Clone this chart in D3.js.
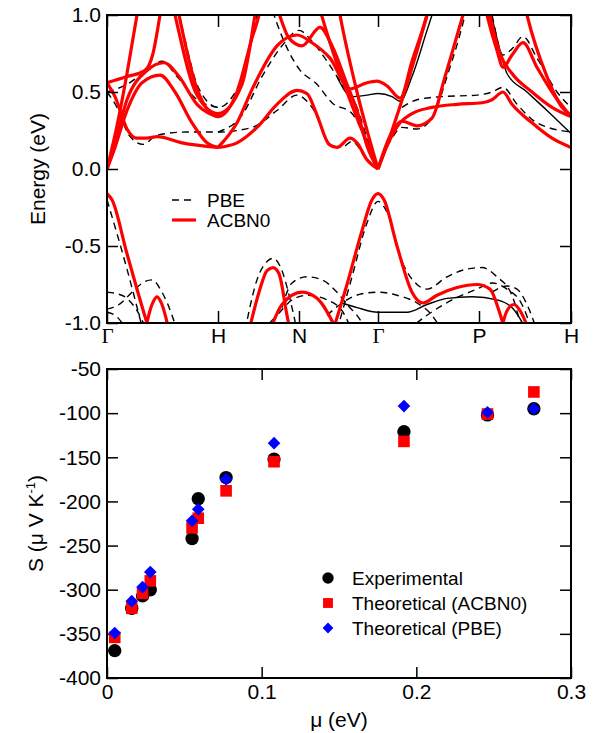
<!DOCTYPE html>
<html>
<head>
<meta charset="utf-8">
<script src="https://cdn.jsdelivr.net/npm/d3@7"></script>
<style>
  body { margin: 0; background: #fff; }
  text { font-family: "Liberation Sans", Arial, sans-serif; }
</style>
</head>
<body>
<div id="chart"></div>
<script>
var width = 596,
    height = 733;

// ---- band structure data (k along path, E in eV) ----
var kTicks = [0, 1.11, 1.92, 2.71, 3.72, 4.64];
var kLabels = ['Γ', 'H', 'N', 'Γ', 'P', 'H'];
var energyTicks = [-1, -0.5, 0, 0.5, 1];

// ACBN0 bands
var acbn0Bands = [
    [[0, 0], [0.1, 0.28], [0.2, 0.62], [0.3, 1.0], [0.4, 1.4]],
    [[0, 0], [0.08, 0.14], [0.2, 0.38], [0.35, 0.56], [0.53, 0.61], [0.68, 0.5], [0.85, 0.3], [1.0, 0.17], [1.11, 0.14]],
    [[0, 0], [0.06, 0.12], [0.2, 0.45], [0.4, 0.64], [0.57, 0.69], [0.72, 0.6], [0.9, 0.42], [1.11, 0.34]],
    [[0, 0.56], [0.08, 0.47], [0.2, 0.26], [0.3, 0.2], [0.4, 0.2], [0.5, 0.21], [0.75, 0.17], [1.11, 0.14]],
    [[0, 0.56], [0.2, 0.6], [0.38, 0.64], [0.46, 0.75], [0.53, 1.0], [0.6, 1.3]],
    [[0.6, 1.4], [0.72, 1.0], [0.9, 0.52], [1.11, 0.34], [1.3, 0.5], [1.45, 0.85], [1.52, 1.0], [1.6, 1.3]],
    [[0.55, 1.4], [0.68, 1.0], [0.9, 0.48], [1.11, 0.36], [1.35, 0.55], [1.48, 1.0], [1.55, 1.3]],
    [[1.11, 0.14], [1.3, 0.17], [1.5, 0.27], [1.7, 0.42], [1.9, 0.51], [2.0, 0.49], [2.1, 0.35], [2.22, 0.16], [2.3, 0.14], [2.43, 0.2], [2.5, 0.17], [2.6, 0.06], [2.71, 0]],
    [[1.11, 0.14], [1.3, 0.3], [1.46, 0.53], [1.7, 0.8], [1.9, 0.87], [2.05, 0.82], [2.23, 0.72], [2.43, 0.52], [2.6, 0.56], [2.7, 0.57], [2.8, 0.54], [2.93, 0.46], [3.05, 0.7], [3.2, 1.0], [3.3, 1.25]],
    [[1.55, 1.35], [1.7, 1.05], [1.82, 0.85], [1.95, 0.8], [2.13, 0.92], [2.25, 0.8], [2.4, 0.55], [2.5, 0.38], [2.6, 0.15], [2.71, 0]],
    [[2.1, 1.1], [2.23, 0.82], [2.4, 0.5], [2.55, 0.25], [2.71, 0]],
    [[2.25, 1.3], [2.33, 1.0], [2.5, 0.5], [2.71, 0]],
    [[2.71, 0], [2.85, 0.25], [3.0, 0.55], [3.2, 1.0], [3.3, 1.25]],
    [[2.71, 0], [2.8, 0.15], [2.93, 0.3], [3.05, 0.36], [3.25, 0.4], [3.5, 0.42], [3.75, 0.43], [3.85, 0.45], [3.96, 0.5], [4.05, 0.42], [4.25, 0.3], [4.45, 0.2], [4.64, 0.14]],
    [[2.71, 0], [2.82, 0.2], [2.95, 0.31], [3.1, 0.28], [3.25, 0.33], [3.38, 0.6], [3.56, 1.0], [3.65, 1.2]],
    [[3.7, 1.3], [3.8, 1.0], [3.9, 0.77], [3.96, 0.66], [4.05, 0.74], [4.16, 0.82], [4.3, 0.66], [4.45, 0.5], [4.64, 0.34]],
    [[3.75, 1.3], [3.83, 1.0], [3.93, 0.75], [4.05, 0.62], [4.25, 0.5], [4.45, 0.4], [4.64, 0.34]],
    [[4.1, 1.3], [4.2, 1.0], [4.4, 0.6], [4.55, 0.4], [4.64, 0.35]],
    // valence
    [[0, -0.16], [0.05, -0.2], [0.2, -0.55], [0.4, -1.0], [0.5, -1.2]],
    [[0.38, -1.05], [0.45, -0.88], [0.5, -0.83], [0.55, -0.88], [0.62, -1.05]],
    [[1.42, -1.05], [1.52, -0.8], [1.6, -0.66], [1.66, -0.64], [1.72, -0.68], [1.8, -0.95], [1.83, -1.05]],
    [[1.63, -1.05], [1.75, -0.88], [1.95, -0.8], [2.1, -0.84], [2.3, -1.05]],
    [[2.26, -1.05], [2.4, -0.75], [2.55, -0.4], [2.65, -0.2], [2.71, -0.16], [2.77, -0.2], [2.9, -0.5], [3.05, -0.8], [3.16, -0.87], [3.3, -0.82], [3.5, -0.77], [3.7, -0.75], [3.83, -0.78], [3.92, -0.92], [3.98, -1.05]],
    [[3.94, -1.05], [4.0, -0.92], [4.07, -0.88], [4.14, -0.93], [4.22, -1.05]]
];

// PBE bands
var pbeBands = [
    [[0, 0.5], [0.1, 0.4], [0.22, 0.22], [0.36, 0.16], [0.5, 0.22], [0.8, 0.24], [1.11, 0.24], [1.45, 0.27], [1.7, 0.38], [1.9, 0.48], [2.05, 0.4], [2.25, 0.15], [2.35, 0.14], [2.45, 0.18], [2.6, 0.06], [2.71, 0]],
    [[0, 0.5], [0.2, 0.55], [0.4, 0.64], [0.55, 0.7], [0.7, 0.6], [0.9, 0.45], [1.11, 0.4]],
    [[0.6, 1.3], [0.72, 1.0], [0.92, 0.52], [1.11, 0.4], [1.3, 0.52], [1.5, 1.0], [1.6, 1.25]],
    [[1.11, 0.24], [1.35, 0.35], [1.55, 0.6], [1.75, 0.8], [1.92, 0.9], [2.05, 0.83], [2.2, 0.7], [2.35, 0.55], [2.5, 0.4], [2.6, 0.2], [2.71, 0]],
    [[1.55, 1.25], [1.75, 0.86], [1.92, 0.65], [2.1, 0.55], [2.25, 0.43], [2.45, 0.36], [2.55, 0.25], [2.71, 0]],
    [[2.71, 0], [2.85, 0.2], [2.95, 0.27], [3.1, 0.26], [3.25, 0.33], [3.4, 0.6], [3.58, 1.0], [3.65, 1.2]],
    [[2.95, 0.4], [3.1, 0.45], [3.35, 0.47], [3.7, 0.48], [3.85, 0.5], [3.96, 0.53], [4.1, 0.42], [4.3, 0.3], [4.64, 0.24]],
    [[3.75, 1.3], [3.85, 1.0], [3.96, 0.74], [4.05, 0.78], [4.16, 0.86], [4.3, 0.72], [4.5, 0.5], [4.64, 0.4]],
    [[0, -0.2], [0.1, -0.42], [0.2, -0.65], [0.36, -1.05]],
    [[0, -0.8], [0.1, -0.81], [0.2, -0.84], [0.3, -0.92], [0.4, -1.05]],
    [[0, -0.91], [0.12, -0.88], [0.25, -0.8], [0.38, -0.73], [0.45, -0.72], [0.55, -0.8], [0.65, -0.95], [0.7, -1.05]],
    [[0, -0.93], [0.1, -0.96], [0.2, -1.05]],
    [[1.38, -1.05], [1.5, -0.72], [1.6, -0.6], [1.66, -0.58], [1.73, -0.63], [1.85, -0.9], [1.9, -1.05]],
    [[1.75, -0.9], [1.85, -0.74], [2.0, -0.7], [2.15, -0.72], [2.3, -0.8], [2.4, -0.88], [2.5, -0.95], [2.6, -1.05]],
    [[1.55, -1.05], [1.7, -0.95], [1.85, -0.85], [2.0, -0.82], [2.2, -0.85], [2.35, -0.92], [2.45, -1.05]],
    [[2.2, -0.95], [2.35, -0.87], [2.55, -0.81], [2.71, -0.8], [2.9, -0.82], [3.1, -0.87], [3.25, -0.95], [3.35, -1.05]],
    [[2.3, -1.05], [2.45, -0.7], [2.6, -0.35], [2.71, -0.21], [2.8, -0.28], [2.95, -0.6], [3.1, -0.75], [3.2, -0.78], [3.4, -0.7], [3.6, -0.65], [3.75, -0.64], [3.9, -0.7], [4.05, -0.82], [4.15, -1.05]],
    [[3.0, -1.05], [3.2, -0.95], [3.45, -0.85], [3.7, -0.78], [3.85, -0.74], [4.0, -0.78], [4.15, -0.88], [4.25, -1.05]],
    [[3.85, -0.8], [4.0, -0.76], [4.1, -0.78], [4.2, -0.88], [4.3, -1.05]]
];

// doubly degenerate PBE bands (dashes overlap into a solid line)
var pbeDoubleBands = [
    [[2.3, 0.6], [2.45, 0.47], [2.6, 0.48], [2.71, 0.49], [2.85, 0.47], [2.93, 0.44], [3.05, 0.6], [3.2, 0.9], [3.25, 1.0]],
    [[3.78, 1.2], [3.88, 0.9], [3.96, 0.7], [4.0, 0.62], [4.2, 0.5], [4.4, 0.38], [4.64, 0.23]],
    [[2.35, -0.87], [2.5, -0.9], [2.71, -0.93], [3.0, -0.93], [3.2, -0.88], [3.4, -0.84], [3.65, -0.83], [3.9, -0.85], [4.05, -0.9], [4.2, -1.05]]
];

// ---- Seebeck data ----
var mu = [0.005, 0.016, 0.023, 0.028, 0.055, 0.059, 0.077, 0.108, 0.192, 0.246, 0.276];
var sExperimental = [-369, -321, -307, -300, -242, -197, -173, -152, -121, -102, -95];
var sACBN0 = [-354, -321, -304, -290, -230, -219, -188, -155, -132, -101, -76];
var sPBE = [-349, -313, -297, -280, -222, -209, -175, -134, -92, -99, -95];
var muTicks = [0, 0.1, 0.2, 0.3];
var sTicks = [-400, -350, -300, -250, -200, -150, -100, -50];
var seriesNames = ['Experimental', 'Theoretical (ACBN0)', 'Theoretical (PBE)'];

var svg = d3.select('#chart')
    .append('svg')
    .attr('width', width)
    .attr('height', height)

// ================= top panel =================
var bandBox = {left: 107, right: 571, top: 15, bottom: 323}

var kscale = d3.scaleLinear()
    .domain([0, 4.64])
    .range([bandBox.left, bandBox.right])
var escale = d3.scaleLinear()
    .domain([-1, 1])
    .range([bandBox.bottom, bandBox.top])

svg.append('clipPath')
    .attr('id', 'clipTop')
    .append('rect')
    .attr('x', bandBox.left)
    .attr('y', bandBox.top)
    .attr('width', bandBox.right - bandBox.left)
    .attr('height', bandBox.bottom - bandBox.top)

var bandLine = d3.line()
    .x(d => kscale(d[0]))
    .y(d => escale(d[1]))
    .curve(d3.curveMonotoneX)

var bands = svg.append('g').attr('clip-path', 'url(#clipTop)')

bands.selectAll('.pbe')
    .data(pbeBands)
    .enter()
    .append('path')
    .attr('class', 'pbe')
    .attr('d', bandLine)
    .attr('fill', 'none')
    .attr('stroke', '#000')
    .attr('stroke-width', 1.4)
    .attr('stroke-dasharray', '7,5')

bands.selectAll('.pbe2')
    .data(pbeDoubleBands)
    .enter()
    .append('path')
    .attr('class', 'pbe2')
    .attr('d', bandLine)
    .attr('fill', 'none')
    .attr('stroke', '#000')
    .attr('stroke-width', 1.4)

bands.selectAll('.acbn0')
    .data(acbn0Bands)
    .enter()
    .append('path')
    .attr('class', 'acbn0')
    .attr('d', bandLine)
    .attr('fill', 'none')
    .attr('stroke', '#ff0000')
    .attr('stroke-width', 3.2)

// axes
var eFormat = d => d.toFixed(1)
svg.append('g')
    .attr('transform', `translate(${bandBox.left},0)`)
    .call(d3.axisLeft(escale).tickValues(energyTicks).tickSize(-11).tickPadding(6).tickFormat(eFormat))
svg.append('g')
    .attr('transform', `translate(${bandBox.right},0)`)
    .call(d3.axisRight(escale).tickValues(energyTicks).tickSize(-11).tickFormat(''))
svg.append('g')
    .attr('transform', `translate(0,${bandBox.bottom})`)
    .call(d3.axisBottom(kscale).tickValues(kTicks).tickSize(-12).tickPadding(5).tickFormat((d, i) => kLabels[i]))
svg.append('g')
    .attr('transform', `translate(0,${bandBox.top})`)
    .call(d3.axisTop(kscale).tickValues(kTicks).tickSize(-12).tickFormat(''))

svg.append('rect')
    .attr('x', bandBox.left)
    .attr('y', bandBox.top)
    .attr('width', bandBox.right - bandBox.left)
    .attr('height', bandBox.bottom - bandBox.top)
    .attr('fill', 'none')
    .attr('stroke', '#000')
    .attr('stroke-width', 2)

svg.append('text')
    .attr('transform', `translate(45,${(bandBox.top + bandBox.bottom) / 2}) rotate(-90)`)
    .attr('text-anchor', 'middle')
    .attr('font-size', 21)
    .text('Energy (eV)')

// legend (top)
var topLegend = [{name: 'PBE', dash: '7,5', color: '#000', w: 1.4}, {name: 'ACBN0', dash: null, color: '#ff0000', w: 3.2}]
topLegend.forEach((d, i) => {
    var y = 200 + i * 20
    svg.append('line')
        .attr('x1', 172).attr('x2', 196)
        .attr('y1', y).attr('y2', y)
        .attr('stroke', d.color)
        .attr('stroke-width', d.w)
        .attr('stroke-dasharray', d.dash)
    svg.append('text')
        .attr('x', 207)
        .attr('y', y + 7)
        .attr('font-size', 19)
        .text(d.name)
})

// ================= bottom panel =================
var seeBox = {left: 107, right: 571, top: 369, bottom: 678}

var xscale = d3.scaleLinear()
    .domain([0, 0.3])
    .range([seeBox.left, seeBox.right])
var yscale = d3.scaleLinear()
    .domain([-400, -50])
    .range([seeBox.bottom, seeBox.top])

svg.append('g')
    .attr('transform', `translate(${seeBox.left},0)`)
    .call(d3.axisLeft(yscale).tickValues(sTicks).tickSize(-11).tickPadding(6).tickFormat(d => String(d)))
svg.append('g')
    .attr('transform', `translate(${seeBox.right},0)`)
    .call(d3.axisRight(yscale).tickValues(sTicks).tickSize(-11).tickFormat(''))
svg.append('g')
    .attr('transform', `translate(0,${seeBox.bottom})`)
    .call(d3.axisBottom(xscale).tickValues(muTicks).tickSize(-11).tickPadding(6).tickFormat(d => String(d)))
svg.append('g')
    .attr('transform', `translate(0,${seeBox.top})`)
    .call(d3.axisTop(xscale).tickValues(muTicks).tickSize(-11).tickFormat(''))

svg.append('rect')
    .attr('x', seeBox.left)
    .attr('y', seeBox.top)
    .attr('width', seeBox.right - seeBox.left)
    .attr('height', seeBox.bottom - seeBox.top)
    .attr('fill', 'none')
    .attr('stroke', '#000')
    .attr('stroke-width', 2)

// style all axes
svg.selectAll('.domain').remove()
svg.selectAll('.tick line').attr('stroke', '#000').attr('stroke-width', 1.5)
svg.selectAll('.tick text')
    .attr('font-size', 21)
    .attr('fill', '#000')
    .style('font-family', function () {
        return d3.select(this).text() === 'Γ' ? '"Liberation Serif", "DejaVu Serif", serif' : null
    })

// markers
var circleSym = d3.symbol().type(d3.symbolCircle).size(140)
var squareSym = d3.symbol().type(d3.symbolSquare).size(135)
var diamondSym = d3.symbol().type(d3.symbolSquare).size(80)

var markerDefs = [
    {vals: sExperimental, sym: circleSym, color: '#000', rot: 0},
    {vals: sACBN0, sym: squareSym, color: '#ff0000', rot: 0},
    {vals: sPBE, sym: diamondSym, color: '#0000ff', rot: 45}
]

markerDefs.forEach((m, j) => {
    svg.append('g').selectAll('path')
        .data(mu)
        .enter()
        .append('path')
        .attr('d', m.sym)
        .attr('fill', m.color)
        .attr('transform', (d, i) => `translate(${xscale(d)},${yscale(m.vals[i])}) rotate(${m.rot})`)

    // legend (bottom)
    var ly = 578 + j * 25
    svg.append('path')
        .attr('d', m.sym)
        .attr('fill', m.color)
        .attr('transform', `translate(328,${ly}) rotate(${m.rot}) scale(0.85)`)
    svg.append('text')
        .attr('x', 352)
        .attr('y', ly + 7)
        .attr('font-size', 19)
        .text(seriesNames[j])
})

// axis titles
var ylab = svg.append('text')
    .attr('transform', `translate(43,${(seeBox.top + seeBox.bottom) / 2}) rotate(-90)`)
    .attr('text-anchor', 'middle')
    .attr('font-size', 21)
ylab.append('tspan').text('S (μ V K')
ylab.append('tspan').attr('font-size', 13).attr('dy', -8).text('-1')
ylab.append('tspan').attr('dy', 8).text(')')

svg.append('text')
    .attr('x', (seeBox.left + seeBox.right) / 2)
    .attr('y', 727)
    .attr('text-anchor', 'middle')
    .attr('font-size', 21)
    .text('μ (eV)')
</script>
</body>
</html>
